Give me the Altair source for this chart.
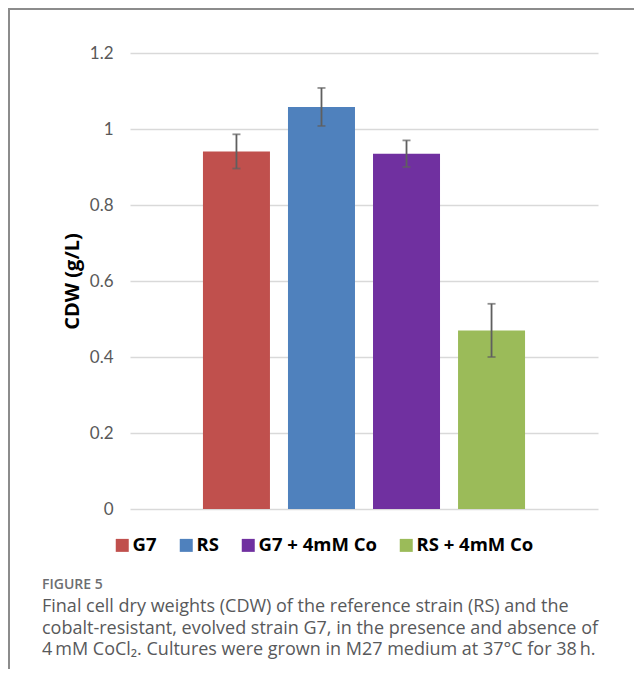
import altair as alt
import pandas as pd

groups = ["G7", "RS", "G7 + 4mM Co", "RS + 4mM Co"]
means = [0.941, 1.058, 0.935, 0.470]
errs = [0.045, 0.050, 0.035, 0.070]
colors = ["#C0504D", "#4F81BD", "#7030A0", "#9BBB59"]
y_ticks = [0, 0.2, 0.4, 0.6, 0.8, 1.0, 1.2]
y_title = "CDW (g/L)"
fig_label = "FIGURE 5"
caption = [
    "Final cell dry weights (CDW) of the reference strain (RS) and the",
    "cobalt-resistant, evolved strain G7, in the presence and absence of",
    "4\u2009mM CoCl\u2082. Cultures were grown in M27 medium at 37°C for 38\u2009h.",
]

df = pd.DataFrame({"group": groups, "mean": means, "err": errs})
df["lo"] = df["mean"] - df["err"]
df["hi"] = df["mean"] + df["err"]

W, H = 468, 456
PL, PT, PR, PB = 122, 45, 36, 165

xenc = alt.X("group:N", sort=groups, axis=None,
             scale=alt.Scale(paddingInner=0.212, paddingOuter=0.858))

base = alt.Chart(df)

bars = base.mark_bar().encode(
    x=xenc,
    y=alt.Y("mean:Q",
            scale=alt.Scale(domain=[0, 1.2], nice=False, zero=True),
            axis=alt.Axis(values=y_ticks, format="~g", title=y_title,
                          domain=False, ticks=False, tickSize=0,
                          labelFont="Lato", labelFontSize=17, labelColor="#595959",
                          labelPadding=17, grid=True, gridColor="#d9d9d9",
                          gridWidth=1.3,
                          titleFont="Open Sans", titleFontSize=20,
                          titleFontWeight="bold", titleColor="#000000",
                          titlePadding=7)),
    color=alt.Color("group:N", scale=alt.Scale(domain=groups, range=colors),
                    legend=alt.Legend(title=None, orient="none", direction="horizontal",
                                      legendX=-17, legendY=483,
                                      symbolType="square", symbolSize=169,
                                      symbolStrokeWidth=0, symbolOpacity=1,
                                      labelFont="Open Sans", labelFontSize=18.5,
                                      labelFontWeight="bold", labelColor="#000000",
                                      labelOffset=1, columnPadding=20,
                                      labelLimit=300)),
)

rules = base.mark_rule(color="#5f5f5f", strokeWidth=1.8).encode(
    x=xenc, y="lo:Q", y2="hi:Q")
caps_hi = base.mark_tick(color="#5f5f5f", thickness=1.8, size=8).encode(x=xenc, y="hi:Q")
caps_lo = base.mark_tick(color="#5f5f5f", thickness=1.8, size=8).encode(x=xenc, y="lo:Q")

one = alt.Chart(pd.DataFrame({"k": [0]}))
frame_top = one.mark_rule(color="#8c8c8c", strokeWidth=2).encode(
    x=alt.value(-PL), x2=alt.value(W + PR), y=alt.value(-44))
frame_left = one.mark_rule(color="#8c8c8c", strokeWidth=2).encode(
    x=alt.value(-PL + 1), y=alt.value(-45), y2=alt.value(H + 160))

fig_text = one.mark_text(align="left", baseline="alphabetic", font="Open Sans",
                         fontSize=14, fontWeight=600, color="#6d6e71",
                         text=fig_label).encode(x=alt.value(-88), y=alt.value(536))

cap_layers = []
for i, line in enumerate(caption):
    cap_layers.append(
        one.mark_text(align="left", baseline="alphabetic", font="Open Sans",
                      fontSize=18, color="#58595b", text=line)
        .encode(x=alt.value(-88), y=alt.value(559 + 21.6 * i))
    )

chart = alt.layer(bars, rules, caps_hi, caps_lo, frame_top, frame_left,
                  fig_text, *cap_layers).properties(
    width=W, height=H,
    padding={"left": PL, "top": PT, "right": PR, "bottom": PB},
    autosize="none",
    view=alt.ViewBackground(stroke="transparent", strokeWidth=0),
).configure_view(strokeWidth=0, stroke="transparent").configure(background="#ffffff")

chart.save("out.html", embed_options={"renderer": "svg", "actions": False})
